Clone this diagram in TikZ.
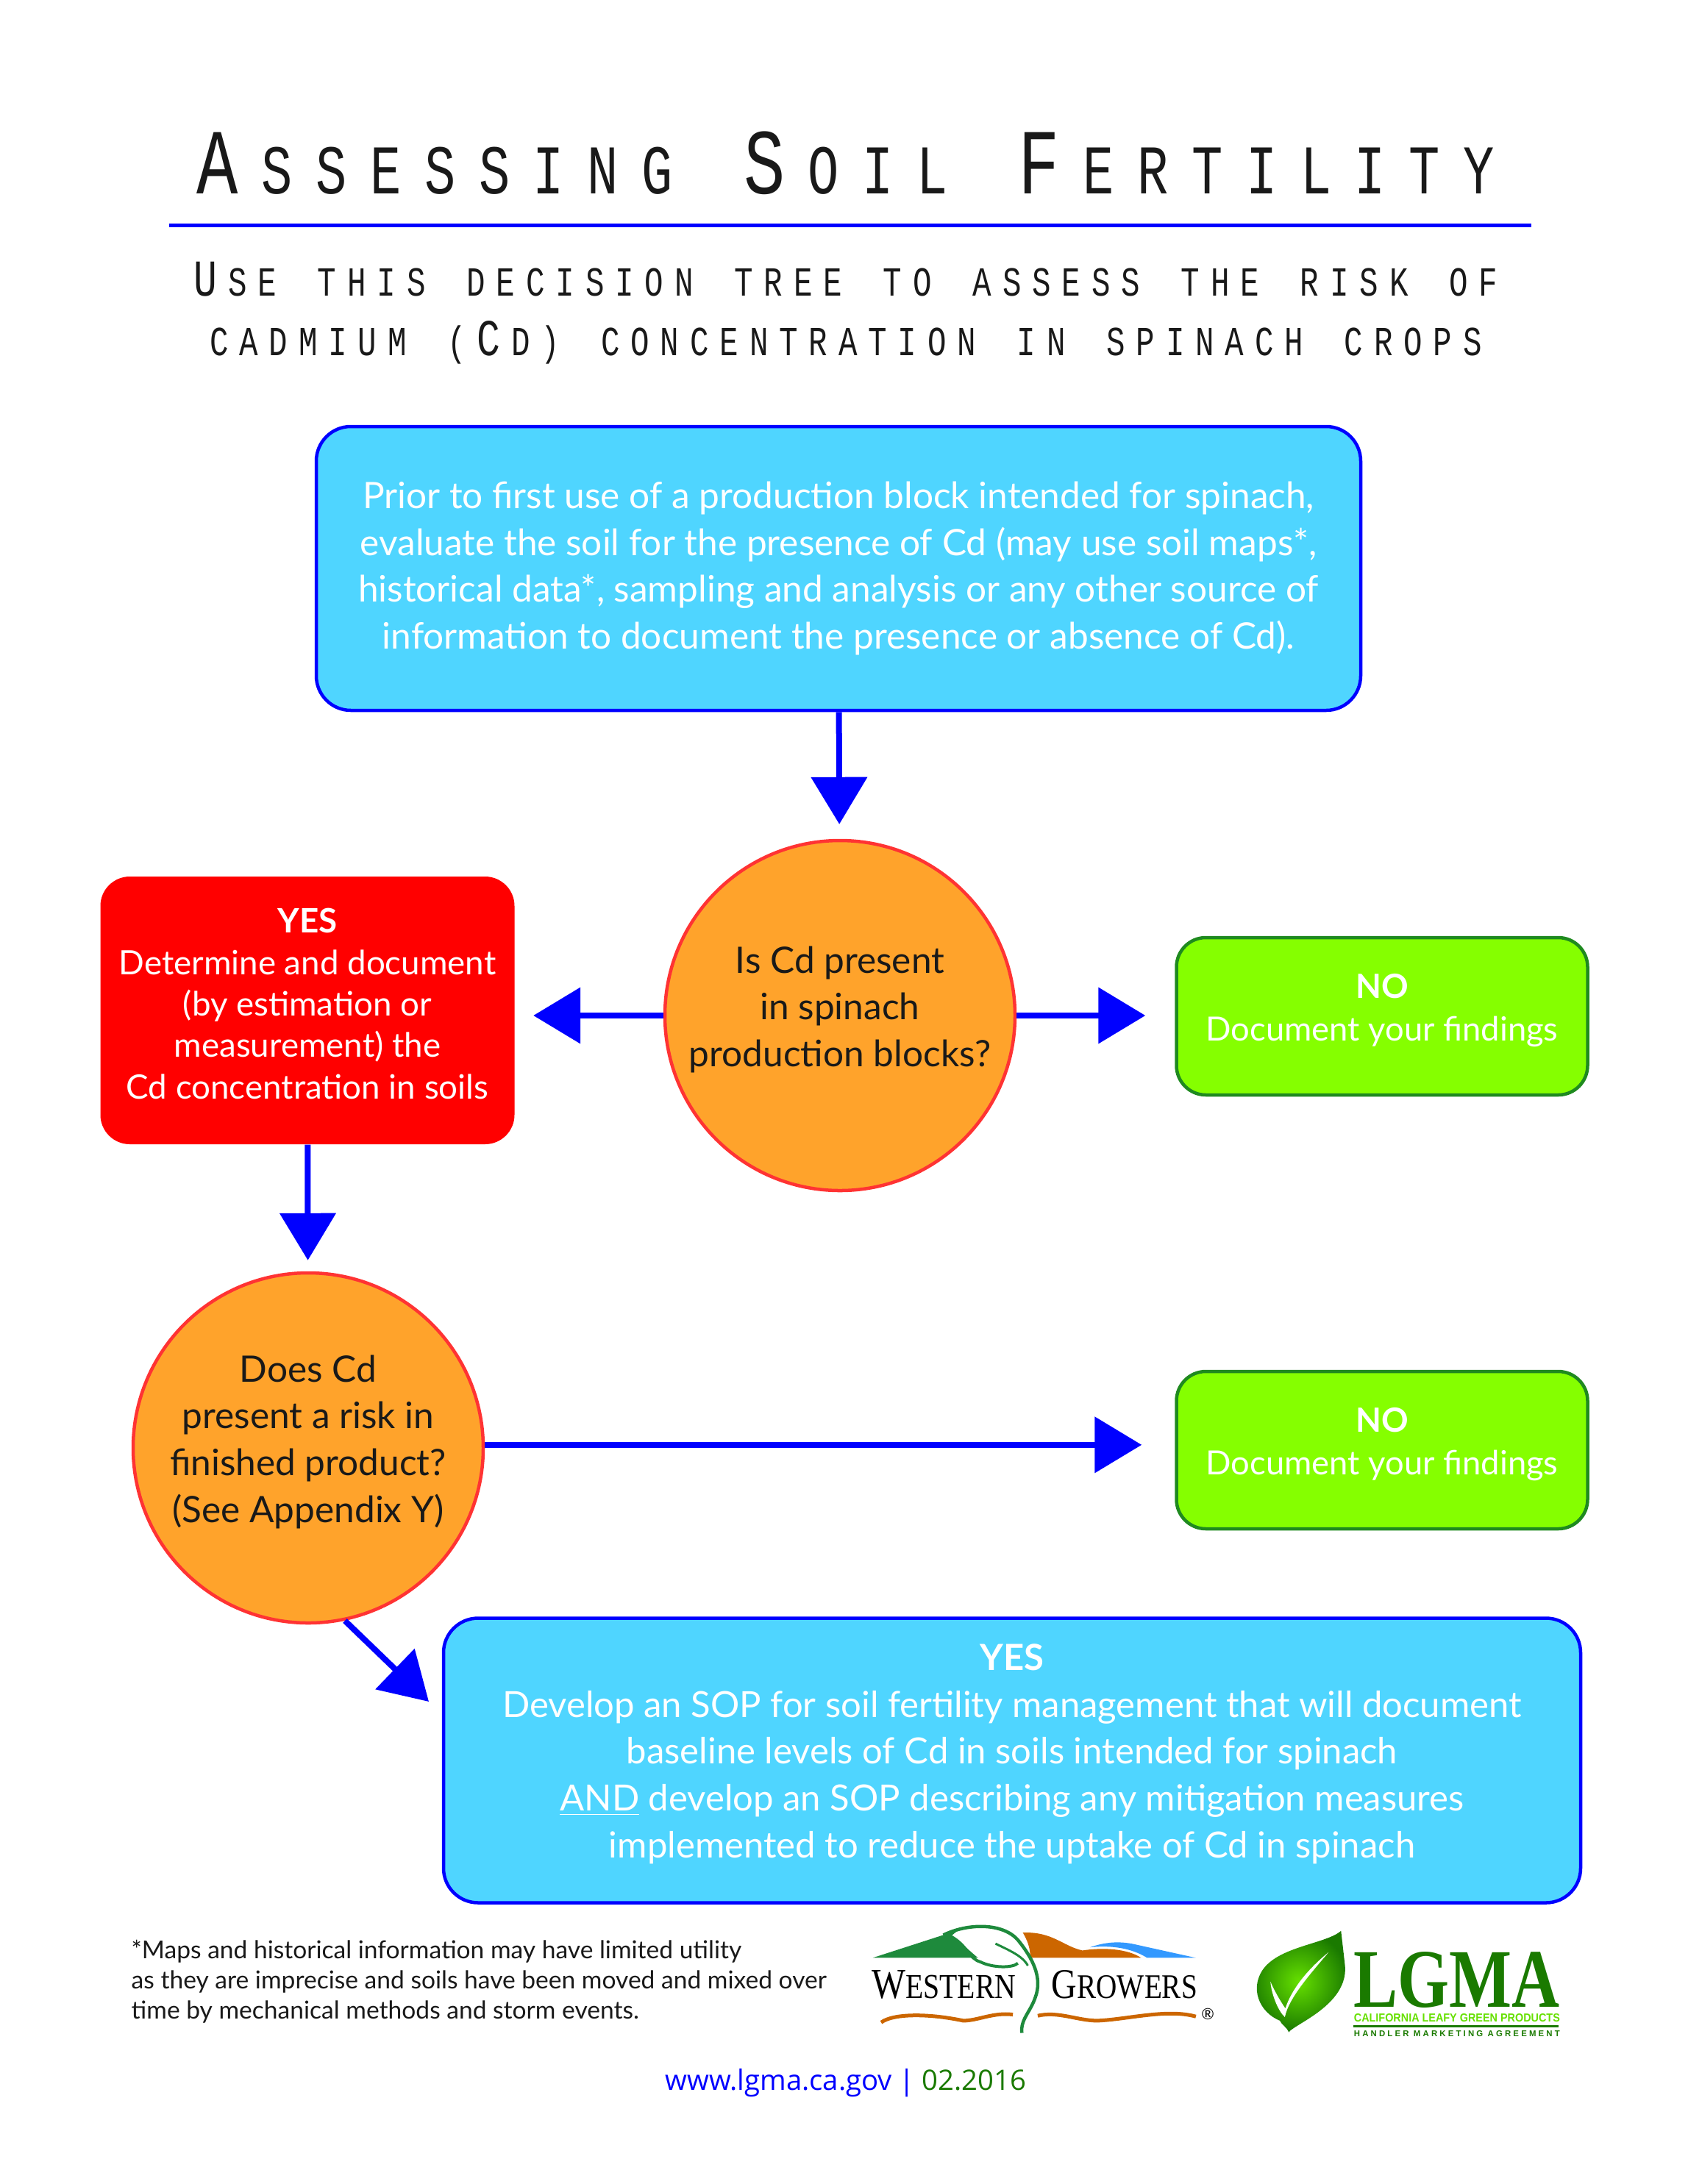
\documentclass[tikz,border=0pt]{standalone}
\usepackage{fontspec}
\usetikzlibrary{arrows.meta,shadings}
\setmainfont{Lato}
\newfontfamily\titlefont[LetterSpace=45,WordSpace=1.3]{Liberation Mono}
\newfontfamily\subtitlefont[LetterSpace=35,WordSpace=1.38]{Liberation Mono}
\newfontfamily\notefont{Open Sans}
\newfontfamily\logoserif{Liberation Serif}
\newfontfamily\logosans{Liberation Sans}
\newcommand{\titlecap}[1]{{\fontsize{36}{36}\selectfont #1}\kern12pt}
\newcommand{\subcap}[1]{{\fontsize{20}{20}\selectfont #1}\kern5.6pt}
\newcommand{\logocap}[1]{{\fontsize{13.4}{13.4}\selectfont #1}}
\definecolor{arrowblue}{HTML}{0000FF}
\definecolor{boxblue}{HTML}{4FD5FF}
\definecolor{ballorange}{HTML}{FFA32B}
\definecolor{ballred}{HTML}{FF3333}
\definecolor{noticered}{HTML}{FF0000}
\definecolor{nogreen}{HTML}{85FF00}
\definecolor{noedge}{HTML}{1F8A1F}
\definecolor{wggreen}{HTML}{1E8A3C}
\definecolor{wgorange}{HTML}{CC6600}
\definecolor{wgblue}{HTML}{3399FF}
\definecolor{lgmagreen}{HTML}{1A7A00}
\definecolor{lgmalime}{HTML}{66E000}
\tikzset{
  flow/.style={draw=arrowblue, line width=0.08cm, -{Triangle[length=0.64cm,width=0.75cm]}},
  headline/.style={inner sep=0, anchor=base, text=black!90},
  bluebox/.style={draw=arrowblue, fill=boxblue, line width=0.045cm, rounded corners=0.47cm, text=white, align=center, font=\fontsize{14.1}{18.1}\selectfont},
  redbox/.style={fill=noticered, rounded corners=0.4cm, text=white, align=center, minimum width=5.63cm, minimum height=3.64cm, text depth=0.185cm, font=\fontsize{13}{16.05}\selectfont},
  greenbox/.style={draw=noedge, fill=nogreen, line width=0.045cm, rounded corners=0.4cm, text=white, align=center, minimum width=5.59cm, minimum height=2.14cm, text depth=0.24cm, font=\fontsize{12.9}{16.7}\selectfont},
  question/.style={circle, draw=ballred, fill=ballorange, line width=0.045cm, minimum size=4.76cm, inner sep=0, align=center, text=black!90, text depth=0.25cm, font=\fontsize{14.1}{18.1}\selectfont},
  logoscope/.style={shift={(11,-25.4)}, x=0.00676cm, y=-0.00333cm},
  logotext/.style={inner sep=0, anchor=base west}
}
\begin{document}
\begin{tikzpicture}
  \useasboundingbox (0,0) rectangle (22.95,-29.7);
  \node[headline] (Title) at (11.5,-2.63) {\resizebox{17.64cm}{\height}{\titlefont\fontsize{27}{27}\selectfont \titlecap{A}SSESSING \titlecap{S}OIL \titlecap{F}ERTILITY}};
  \coordinate (Rule Left) at (2.3,-3.06);
  \coordinate (Rule Right) at (20.82,-3.06);
  \draw[arrowblue, line width=0.05cm] (Rule Left) -- (Rule Right);
  \node[headline] (Sub One) at (11.5,-4.02) {\resizebox{17.73cm}{\height}{\subtitlefont\fontsize{16}{16}\selectfont \subcap{U}SE THIS DECISION TREE TO ASSESS THE RISK OF}};
  \node[headline] (Sub Two) at (11.5,-4.83) {\resizebox{17.3cm}{\height}{\subtitlefont\fontsize{16}{16}\selectfont CADMIUM (\kern5.6pt\subcap{C}D) CONCENTRATION IN SPINACH CROPS}};
  \node[bluebox, minimum width=14.2cm, minimum height=3.86cm] (Soil Check) at (11.4,-7.73) {Prior to first use of a production block intended for spinach,\\evaluate the soil for the presence of Cd (may use soil maps*,\\historical data*, sampling and analysis or any other source of\\information to document the presence or absence of Cd).};
  \node[question] (Cd Present) at (11.42,-13.81) {Is Cd present\\in spinach\\production blocks?};
  \node[redbox] (Yes Measure) at (4.18,-13.74) {\textbf{YES}\\Determine and document\\(by estimation or\\measurement) the\\Cd concentration in soils};
  \node[greenbox] (No Present) at (18.79,-13.82) {\textbf{NO}\\Document your findings};
  \node[question] (Cd Risk) at (4.19,-19.69) {Does Cd\\present a risk in\\finished product?\\(See Appendix Y)};
  \node[greenbox] (No Risk) at (18.79,-19.72) {\textbf{NO}\\Document your findings};
  \node[bluebox, minimum width=15.46cm, minimum height=3.87cm, text depth=0.26cm, font=\fontsize{13.95}{18.1}\selectfont] (Yes SOP) at (13.76,-23.94) {\textbf{YES}\\Develop an SOP for soil fertility management that will document\\baseline levels of Cd in soils intended for spinach\\\underline{AND} develop an SOP describing any mitigation measures\\implemented to reduce the uptake of Cd in spinach};
  \coordinate (SOP Tip) at (5.83,-23.14);
  \draw[flow, shorten >=0.2cm] (Soil Check) -- (Cd Present);
  \draw[flow, shorten >=0.25cm] (Cd Present) -- (Cd Present -| Yes Measure.east);
  \draw[flow, shorten >=0.4cm] (Cd Present) -- (Cd Present -| No Present.west);
  \draw[flow, shorten >=0.15cm] (Yes Measure) -- (Cd Risk);
  \draw[flow, shorten >=0.45cm] (Cd Risk.1) -- (Cd Risk.1 -| No Risk.west);
  \draw[flow] (Cd Risk.-78) -- (SOP Tip);
  \node[inner sep=0, anchor=west, align=left, text=black!90, font=\fontsize{9.55}{11.7}\selectfont] (Footnote) at (1.78,-26.95) {*Maps and historical information may have limited utility\\as they are imprecise and soils have been moved and mixed over\\time by mechanical methods and storm events.};
  \node[inner sep=0, font=\notefont\fontsize{10.9}{13}\selectfont] (Web Line) at (11.5,-28.33) {\textcolor{arrowblue}{www.lgma.ca.gov | }\textcolor{lgmagreen}{02.2016}};
  \begin{scope}[logoscope]
    \fill[wggreen] (128,368) -- (300,255) -- (285,280) .. controls (310,310) and (325,345) .. (340,368) -- cycle;
    \fill[wgorange] (430,265) .. controls (490,260) and (510,320) .. (550,338) .. controls (590,325) and (640,330) .. (668,368) -- (445,368) .. controls (445,330) and (440,300) .. (430,265) -- cycle;
    \fill[wgblue] (565,325) .. controls (600,300) and (630,300) .. (660,315) -- (778,368) -- (680,368) .. controls (650,330) and (610,315) .. (565,325) -- cycle;
    \draw[wggreen, line width=0.045cm] (270,275) .. controls (320,225) and (390,225) .. (420,295) .. controls (450,370) and (470,450) .. (455,530) .. controls (445,590) and (425,620) .. (428,675);
    \draw[wggreen, line width=0.04cm] (285,280) .. controls (320,320) and (320,370) .. (345,385) .. controls (370,410) and (410,410) .. (420,390);
    \draw[wggreen, line width=0.03cm] (375,310) .. controls (400,335) and (430,360) .. (440,400);
    \draw[wgorange, line width=0.05cm] (145,632) .. controls (170,595) and (240,595) .. (310,625) .. controls (340,625) and (370,590) .. (410,600);
    \draw[wgorange, line width=0.05cm] (460,605) .. controls (500,585) and (540,625) .. (580,625) .. controls (640,620) and (720,575) .. (778,608);
    \node[logotext] (Western) at (125,535) {\resizebox{1.96cm}{0.38cm}{\logoserif\fontsize{16.4}{16.4}\selectfont W\logocap{ESTERN}}};
    \node[logotext] (Growers) at (487,535) {\resizebox{1.98cm}{0.38cm}{\logoserif\fontsize{16.4}{16.4}\selectfont G\logocap{ROWERS}}};
    \node[inner sep=0, font=\fontsize{6}{6}\selectfont] (Registered) at (802,598) {\textregistered};
    \shade[inner color=lgmalime, outer color=lgmagreen] (1070,258) .. controls (1040,310) and (950,320) .. (915,410) .. controls (885,490) and (905,590) .. (947,625) .. controls (950,640) and (960,650) .. (965,672) .. controls (975,640) and (1085,560) .. (1078,400) -- (1070,258) -- cycle;
    \fill[white] (1045,345) .. controls (1000,420) and (970,500) .. (958,575) .. controls (948,545) and (935,500) .. (928,465) .. controls (930,520) and (945,590) .. (957,610) .. controls (965,530) and (1010,430) .. (1045,345) -- cycle;
    \node[logotext, text=lgmagreen] (LGMA Name) at (1095,570) {\resizebox{2.8cm}{0.75cm}{\logoserif\bfseries LGMA}};
    \node[logotext, text=lgmalime] (LGMA Products) at (1095,630) {\resizebox{2.8cm}{0.11cm}{\logosans\bfseries CALIFORNIA LEAFY GREEN PRODUCTS}};
    \coordinate (LGMA Left) at (1095,648);
    \coordinate (LGMA Right) at (1508,648);
    \draw[lgmagreen, line width=0.025cm] (LGMA Left) -- (LGMA Right);
    \node[logotext, text=lgmagreen] (LGMA Handler) at (1095,690) {\resizebox{2.8cm}{0.08cm}{\logosans\bfseries H A N D L E R\ \ M A R K E T I N G\ \ A G R E E M E N T}};
  \end{scope}
\end{tikzpicture}
\end{document}
